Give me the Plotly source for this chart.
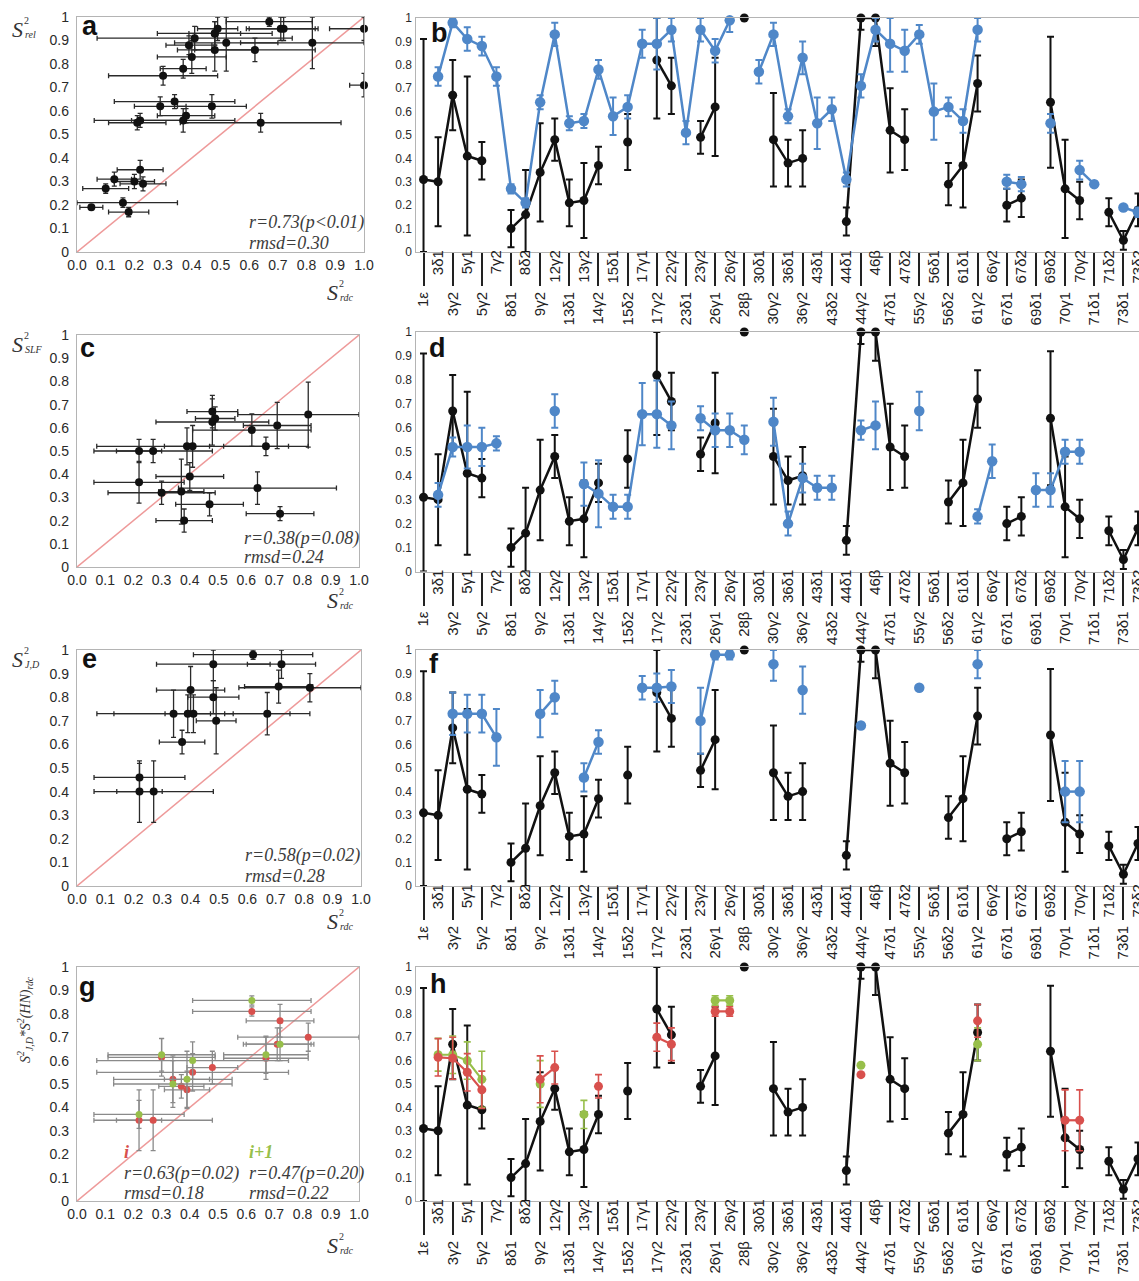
import plotly.graph_objects as go

W, H = 1139, 1281
SANS = "Liberation Sans, Arial, sans-serif"
SERIF = "Liberation Serif, Times New Roman, serif"

BLACK = "#111111"
BLUE = "#4f87c8"
RED = "#d8504d"
GREEN = "#97bf4a"
AXIS_GREY = "#b4b4b4"
DIAG = "#ee9a9a"
TEXT = "#3c3c3c"

# ---------------------------------------------------------------- data
categories = ["1ε", "3δ1", "3γ2", "5γ1", "5γ2", "7γ2", "8δ1", "8δ2", "9γ2", "12γ2",
              "13δ1", "13γ2", "14γ2", "15δ1", "15δ2", "17γ1", "17γ2", "22γ2", "23δ1", "23γ2",
              "26γ1", "26γ2", "28β", "30δ1", "30γ2", "36δ1", "36γ2", "43δ1", "43δ2", "44δ1",
              "44γ2", "46β", "47δ1", "47δ2", "55γ2", "56δ1", "56δ2", "61δ1", "61γ2", "66γ2",
              "67δ1", "67δ2", "69δ1", "69δ2", "70γ1", "70γ2", "71δ1", "71δ2", "73δ1", "73δ2"]

# S2 from RDC (black series, x of every scatter panel)
s2_rdc = [0.31, 0.30, 0.67, 0.41, 0.39, None, 0.10, 0.16, 0.34, 0.48,
          0.21, 0.22, 0.37, None, 0.47, None, 0.82, 0.71, None, 0.49,
          0.62, None, 1.00, None, 0.48, 0.38, 0.40, None, None, 0.13,
          1.00, 1.00, 0.52, 0.48, None, None, 0.29, 0.37, 0.72, None,
          0.20, 0.23, None, 0.64, 0.27, 0.22, None, 0.17, 0.05, 0.18]
s2_rdc_err = [0.60, 0.19, 0.15, 0.34, 0.08, None, 0.08, 0.19, 0.21, 0.09,
              0.10, 0.16, 0.08, None, 0.12, None, 0.25, 0.12, None, 0.07,
              0.21, None, 0.00, None, 0.20, 0.10, 0.12, None, None, 0.06,
              0.05, 0.12, 0.18, 0.13, None, None, 0.09, 0.18, 0.12, None,
              0.07, 0.08, None, 0.28, 0.21, 0.08, None, 0.06, 0.04, 0.07]

# S2 from relaxation
s2_rel = [None, 0.75, 0.98, 0.91, 0.88, 0.75, 0.27, 0.21, 0.64, 0.93,
          0.55, 0.56, 0.78, 0.58, 0.62, 0.89, 0.89, 0.95, 0.51, 0.95,
          0.86, 0.99, None, 0.77, 0.93, 0.58, 0.83, 0.55, 0.61, 0.31,
          0.71, 0.95, 0.89, 0.86, 0.93, 0.60, 0.62, 0.56, 0.95, None,
          0.30, 0.29, None, 0.55, None, 0.35, 0.29, None, 0.19, 0.17]
s2_rel_err = [None, 0.04, 0.02, 0.05, 0.04, 0.04, 0.02, 0.02, 0.03, 0.05,
              0.03, 0.03, 0.04, 0.08, 0.05, 0.06, 0.11, 0.05, 0.05, 0.05,
              0.05, 0.05, None, 0.05, 0.05, 0.03, 0.07, 0.11, 0.05, 0.03,
              0.05, 0.05, 0.12, 0.09, 0.04, 0.12, 0.04, 0.05, 0.05, None,
              0.03, 0.03, None, 0.04, None, 0.04, 0.01, None, 0.01, 0.02]

# S2 from the SLF model
s2_slf = [None, 0.32, 0.52, 0.52, 0.52, 0.535, None, None, None, 0.67,
          None, 0.365, 0.325, 0.27, 0.27, 0.657, 0.657, 0.61, None, 0.64,
          0.59, 0.59, 0.55, None, 0.625, 0.20, 0.39, 0.35, 0.35, None,
          0.59, 0.61, None, None, 0.67, None, None, None, 0.23, 0.46,
          None, None, 0.34, 0.34, 0.50, 0.50, None, None, None, None]
s2_slf_err = [None, 0.05, 0.04, 0.09, 0.08, 0.03, None, None, None, 0.07,
              None, 0.09, 0.14, 0.05, 0.05, 0.13, 0.14, 0.10, None, 0.05,
              0.07, 0.07, 0.06, None, 0.10, 0.05, 0.06, 0.05, 0.05, None,
              0.04, 0.10, None, None, 0.08, None, None, None, 0.03, 0.07,
              None, None, 0.07, 0.07, 0.05, 0.05, None, None, None, None]

# S2 from J couplings (J,D)
s2_jd = [None, None, 0.73, 0.73, 0.73, 0.63, None, None, 0.73, 0.80,
         None, 0.46, 0.61, None, None, 0.84, 0.84, 0.845, None, 0.70,
         0.98, 0.98, None, None, 0.94, None, 0.83, None, None, None,
         0.68, None, None, None, 0.84, None, None, None, 0.94, None,
         None, None, None, None, 0.40, 0.40, None, None, None, None]
s2_jd_err = [None, None, 0.09, 0.08, 0.08, 0.12, None, None, 0.10, 0.07,
             None, 0.06, 0.05, None, None, 0.05, 0.06, 0.07, None, 0.14,
             0.02, 0.02, None, None, 0.07, None, 0.10, None, None, None,
             0.00, None, None, None, 0.00, None, None, None, 0.06, None,
             None, None, None, None, 0.13, 0.13, None, None, None, None]

# S2(J,D) * S2(HN)rdc using residue i
s2_hn_i = [None, 0.614, 0.61, 0.55, 0.475, None, None, None, 0.52, 0.57,
           None, None, 0.49, None, None, None, 0.70, 0.67, None, None,
           0.81, 0.81, None, None, None, None, None, None, None, None,
           0.54, None, None, None, None, None, None, None, 0.77, None,
           None, None, None, None, 0.345, 0.345, None, None, None, None]
s2_hn_i_err = [None, 0.08, 0.09, 0.08, 0.08, None, None, None, 0.10, 0.07,
               None, None, 0.05, None, None, None, 0.06, 0.07, None, None,
               0.02, 0.02, None, None, None, None, None, None, None, None,
               0.00, None, None, None, None, None, None, None, 0.07, None,
               None, None, None, None, 0.13, 0.13, None, None, None, None]

# S2(J,D) * S2(HN)rdc using residue i+1
s2_hn_i1 = [None, 0.625, 0.625, 0.60, 0.52, None, None, None, 0.50, None,
            None, 0.37, None, None, None, None, None, None, None, None,
            0.857, 0.857, None, None, None, None, None, None, None, None,
            0.58, None, None, None, None, None, None, None, 0.67, None,
            None, None, None, None, None, None, None, None, None, None]
s2_hn_i1_err = [None, 0.07, 0.08, 0.08, 0.12, None, None, None, 0.10, None,
                None, 0.06, None, None, None, None, None, None, None, None,
                0.02, 0.02, None, None, None, None, None, None, None, None,
                0.00, None, None, None, None, None, None, None, 0.07, None,
                None, None, None, None, None, None, None, None, None, None]

y_ticks = [0, 0.1, 0.2, 0.3, 0.4, 0.5, 0.6, 0.7, 0.8, 0.9, 1.0]
y_tick_text = ["0", "0.1", "0.2", "0.3", "0.4", "0.5", "0.6", "0.7", "0.8", "0.9", "1"]
x_tick_text = ["0.0", "0.1", "0.2", "0.3", "0.4", "0.5", "0.6", "0.7", "0.8", "0.9", "1.0"]

stats = {
    "a": ["r=0.73(p<0.01)", "rmsd=0.30"],
    "c": ["r=0.38(p=0.08)", "rmsd=0.24"],
    "e": ["r=0.58(p=0.02)", "rmsd=0.28"],
    "g_i": ["r=0.63(p=0.02)", "rmsd=0.18"],
    "g_i1": ["r=0.47(p=0.20)", "rmsd=0.22"],
}

# ---------------------------------------------------------------- helpers
idx = list(range(len(categories)))
odd_idx = idx[1::2]
even_idx = idx[0::2]
XR = [-0.55, 49.07]


def fx(p):
    return p / W


def fy(p):
    return 1 - p / H


def axkey(letter, n):
    return f"{letter}axis" if n == 1 else f"{letter}axis{n}"


def axref(letter, n):
    return letter if n == 1 else f"{letter}{n}"


def bounded(vals, errs, lo=0.0, hi=1.0):
    """Asymmetric error lengths, cut at the plotted 0..1 range."""
    plus, minus = [], []
    for v, e in zip(vals, errs):
        if v is None or e is None:
            plus.append(0.0)
            minus.append(0.0)
        else:
            plus.append(max(0.0, min(e, hi - v)))
            minus.append(max(0.0, min(e, v - lo)))
    return plus, minus


fig = go.Figure()
layout = dict(width=W, height=H, margin=dict(l=0, r=0, t=0, b=0, pad=0),
              template="none", paper_bgcolor="white", plot_bgcolor="white",
              showlegend=False, hovermode=False)
annotations = []
shapes = []


def add_series(xa, ya, vals, errs, color, msize, lw=2.5, ethick=2.0):
    plus, minus = bounded(vals, errs)
    fig.add_trace(go.Scatter(
        x=idx, y=vals, xaxis=xa, yaxis=ya, mode="lines",
        line=dict(color=color, width=lw), connectgaps=False,
        error_y=dict(type="data", symmetric=False, array=plus, arrayminus=minus,
                     color=color, thickness=ethick, width=3.5),
        hoverinfo="skip"))
    fig.add_trace(go.Scatter(
        x=idx, y=vals, xaxis=xa, yaxis=ya, mode="markers",
        marker=dict(color=color, size=msize), cliponaxis=False, hoverinfo="skip"))


def add_pairs(xa, ya, yvals, yerrs, color, msize, ecolor, keep_edge):
    xs, ys, xe, ye = [], [], [], []
    for x, ex, y, ey in zip(s2_rdc, s2_rdc_err, yvals, yerrs):
        if x is None or y is None:
            continue
        if not keep_edge and x >= 1.0:
            continue
        xs.append(x)
        ys.append(y)
        xe.append(ex)
        ye.append(ey)
    xp, xm = bounded(xs, xe)
    yp, ym = bounded(ys, ye)
    fig.add_trace(go.Scatter(
        x=xs, y=ys, xaxis=xa, yaxis=ya, mode="markers",
        marker=dict(color=color, size=msize), cliponaxis=False,
        error_x=dict(type="data", symmetric=False, array=xp, arrayminus=xm,
                     color=ecolor, thickness=1.3, width=2.5),
        error_y=dict(type="data", symmetric=False, array=yp, arrayminus=ym,
                     color=ecolor, thickness=1.3, width=2.5),
        hoverinfo="skip"))


def left_axes(nx, ny, box):
    l, r, t, b = box
    common = dict(range=[0, 1], tickmode="array", tickvals=y_ticks,
                  showline=True, linecolor=AXIS_GREY, linewidth=1.3, mirror=True,
                  ticks="", showgrid=False, zeroline=False, fixedrange=True,
                  automargin=False,
                  tickfont=dict(family=SANS, size=14, color="#2a2a2a"))
    layout[axkey("x", nx)] = dict(common, domain=[fx(l), fx(r)], anchor=axref("y", ny),
                                  ticktext=x_tick_text, ticklabelstandoff=0)
    layout[axkey("y", ny)] = dict(common, domain=[fy(b), fy(t)], anchor=axref("x", nx),
                                  ticktext=y_tick_text, ticklabelstandoff=4)
    shapes.append(dict(type="line", xref=axref("x", nx), yref=axref("y", ny),
                       x0=0, y0=0, x1=1, y1=1, layer="below",
                       line=dict(color=DIAG, width=1.5)))


def right_axes(nx_main, nx_over, ny, box):
    l, r, t, b = box
    label_font = dict(family=SANS, size=15, color="#222222")
    layout[axkey("x", nx_main)] = dict(
        domain=[fx(l), fx(r)], anchor=axref("y", ny), range=XR,
        tickmode="array", tickvals=odd_idx, ticktext=[categories[i] for i in odd_idx],
        tickangle=-90, tickfont=label_font, ticks="", ticklabelstandoff=-9,
        ticklabeloverflow="allow",
        showline=True, linecolor=AXIS_GREY, linewidth=1.3, mirror=True,
        showgrid=False, zeroline=False, fixedrange=True, automargin=False)
    layout[axkey("x", nx_over)] = dict(
        overlaying=axref("x", nx_main), anchor=axref("y", ny), range=XR,
        tickmode="array", tickvals=even_idx, ticktext=[categories[i] for i in even_idx],
        tickangle=-90, tickfont=label_font, ticks="outside", ticklen=33,
        tickwidth=1.5, tickcolor="#222222", ticklabeloverflow="allow",
        showline=False, showgrid=False, zeroline=False, fixedrange=True,
        automargin=False)
    layout[axkey("y", ny)] = dict(
        domain=[fy(b), fy(t)], anchor=axref("x", nx_main), range=[0, 1],
        tickmode="array", tickvals=y_ticks, ticktext=y_tick_text,
        tickfont=dict(family=SANS, size=12, color="#2a2a2a"), ticks="",
        showline=True, linecolor=AXIS_GREY, linewidth=1.3,
        showgrid=False, zeroline=False, fixedrange=True, automargin=False)
    # keeps the overlaid label axis drawn
    fig.add_trace(go.Scatter(x=[0], y=[-5], xaxis=axref("x", nx_over), yaxis=axref("y", ny),
                             mode="markers", marker=dict(opacity=0), hoverinfo="skip"))


def text(xp, yp, s, size, family=SERIF, color=TEXT, xanchor="left", yanchor="middle",
         angle=0):
    annotations.append(dict(x=fx(xp), y=fy(yp), xref="paper", yref="paper", text=s,
                            showarrow=False, xanchor=xanchor, yanchor=yanchor,
                            textangle=angle, font=dict(family=family, size=size, color=color)))


def s2_label(x_left, y_mid, sub):
    text(x_left, y_mid, "<i>S</i>", 22, color="#333333")
    text(x_left + 12, y_mid - 9, "2", 10, color="#333333")
    text(x_left + 13, y_mid + 5, f"<i>{sub}</i>", 10, color="#333333")


def letter(x_left, y_mid, s):
    text(x_left, y_mid, f"<b>{s}</b>", 27, family=SANS, color="#111111")


# ---------------------------------------------------------------- panels
rows = [
    dict(left=(77, 364, 17, 252), right=(415.5, 1139, 18, 252)),
    dict(left=(77, 359, 335, 567), right=(415.5, 1139, 332, 571.5)),
    dict(left=(77, 361, 650, 886), right=(415.5, 1139, 650, 886)),
    dict(left=(77, 359, 967, 1201), right=(415.5, 1139, 967, 1201)),
]

# axis numbering: left scatter (x, y), right series (x main, x labels, y)
left_ids = [(1, 1), (4, 3), (7, 5), (10, 7)]
right_ids = [(2, 3, 2), (5, 6, 4), (8, 9, 6), (11, 12, 8)]

for row, (lx, ly), (rx, rxo, ry) in zip(rows, left_ids, right_ids):
    left_axes(lx, ly, row["left"])
    right_axes(rx, rxo, ry, row["right"])

# a / b : relaxation
add_pairs("x", "y", s2_rel, s2_rel_err, BLACK, 8, "#2a2a2a", True)
add_series("x2", "y2", s2_rdc, s2_rdc_err, BLACK, 9)
add_series("x2", "y2", s2_rel, s2_rel_err, BLUE, 10.5)

# c / d : SLF
add_pairs("x4", "y3", s2_slf, s2_slf_err, BLACK, 8, "#2a2a2a", False)
add_series("x5", "y4", s2_rdc, s2_rdc_err, BLACK, 9)
add_series("x5", "y4", s2_slf, s2_slf_err, BLUE, 10.5)

# e / f : J,D
add_pairs("x7", "y5", s2_jd, s2_jd_err, BLACK, 8, "#2a2a2a", False)
add_series("x8", "y6", s2_rdc, s2_rdc_err, BLACK, 9)
add_series("x8", "y6", s2_jd, s2_jd_err, BLUE, 10.5)

# g / h : J,D scaled by S2(HN)
add_pairs("x10", "y7", s2_hn_i, s2_hn_i_err, RED, 7, "#8a8a8a", False)
add_pairs("x10", "y7", s2_hn_i1, s2_hn_i1_err, GREEN, 7, "#8a8a8a", False)
add_series("x11", "y8", s2_rdc, s2_rdc_err, BLACK, 9)
add_series("x11", "y8", s2_hn_i1, s2_hn_i1_err, GREEN, 9, lw=2.2, ethick=1.6)
add_series("x11", "y8", s2_hn_i, s2_hn_i_err, RED, 9, lw=2.2, ethick=1.6)

# ---------------------------------------------------------------- text
for s, (xl, ym) in zip("abcdefgh", [(80, 26), (429, 33), (78, 348), (427, 348),
                                    (80, 659), (427, 664), (77, 987), (428, 984)]):
    letter(xl, ym, s)

s2_label(10, 29, "rel")
s2_label(10, 344, "SLF")
s2_label(10, 659, "J,D")
for ym in (292, 600, 921, 1245):
    s2_label(325, ym, "rdc")

text(25, 1020, "<i>S<sup>2</sup><sub>J,D</sub>*S<sup>2</sup>(HN)<sub>rdc</sub></i>", 14,
     color="#333333", xanchor="center", angle=-90)

text(247, 223, f"<i>{stats['a'][0]}</i>", 18)
text(247, 243, f"<i>{stats['a'][1]}</i>", 18)
text(242, 538, f"<i>{stats['c'][0]}</i>", 18)
text(242, 557, f"<i>{stats['c'][1]}</i>", 18)
text(243, 855, f"<i>{stats['e'][0]}</i>", 18)
text(243, 876, f"<i>{stats['e'][1]}</i>", 18)

text(122, 1152, "<b><i>i</i></b>", 18, color=RED)
text(247, 1152, "<b><i>i+1</i></b>", 18, color=GREEN)
text(122, 1173, f"<i>{stats['g_i'][0]}</i>", 18)
text(122, 1193, f"<i>{stats['g_i'][1]}</i>", 18)
text(247, 1173, f"<i>{stats['g_i1'][0]}</i>", 18)
text(247, 1193, f"<i>{stats['g_i1'][1]}</i>", 18)

layout["annotations"] = annotations
layout["shapes"] = shapes
fig.update_layout(**layout)
fig.write_html("out.html")
